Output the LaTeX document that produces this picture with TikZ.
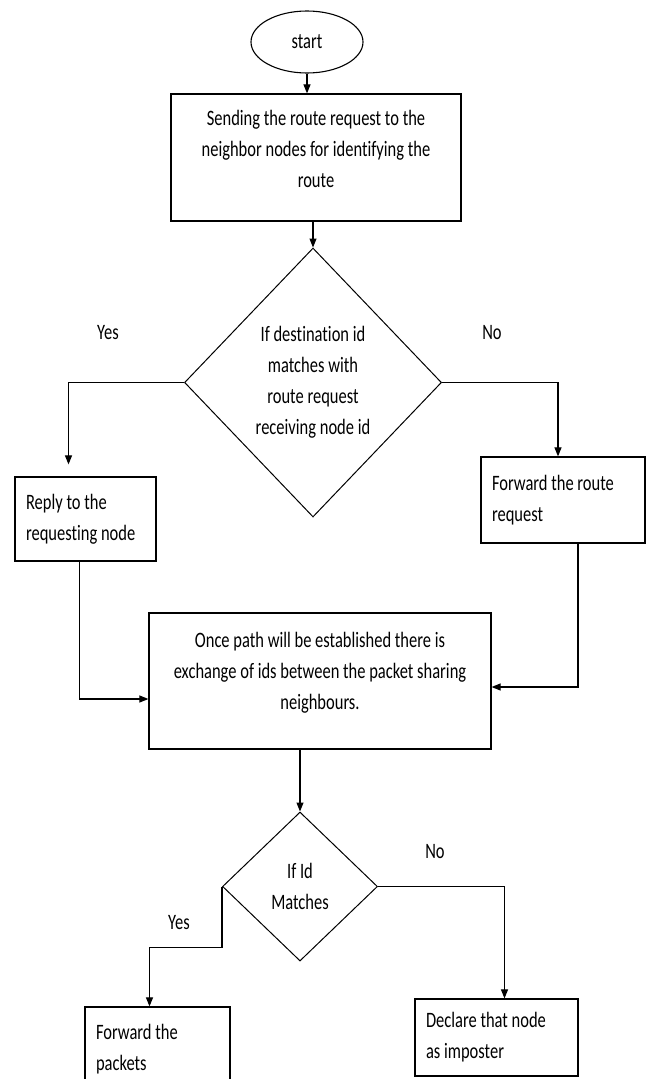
\documentclass[tikz,border=0pt]{standalone}
\usepackage{fontspec}
\setmainfont{Carlito}[FakeStretch=0.75, Ligatures=NoCommon]
\usepackage{tikz}
\usetikzlibrary{shapes.geometric, arrows.meta, positioning, calc}

\begin{document}
\begin{tikzpicture}[
        x=1pt, y=-1pt,
        box/.style={rectangle, draw, line width=1.2pt, inner sep=0pt, align=center, font=\fontsize{22}{31}\selectfont},
        leftbox/.style={box, align=flush left, inner xsep=11pt},
        decision/.style={diamond, draw, line width=1pt, inner sep=0pt, align=center, font=\fontsize{22}{31}\selectfont},
        label/.style={font=\fontsize{22}{31}\selectfont},
        arrow/.style={-{Triangle[length=9pt,width=7pt]}, line width=1.1pt}
    ]
        \useasboundingbox (0,0) rectangle (648,1079);

        \node[ellipse, draw, line width=1.1pt, minimum width=112pt, minimum height=62pt, inner sep=0pt, font=\fontsize{22}{31}\selectfont] (start) at (307,42) {start};
        \node[box, minimum width=290pt, minimum height=127pt, text depth=18pt] (route) at (316,157.5) {Sending the route request to the\\ neighbor nodes for identifying the\\ route};
        \node[decision, minimum width=257pt, minimum height=269pt] (destid) at (313,382.5) {If destination id\\ matches with\\ route request\\ receiving node id};

        \node[leftbox, minimum width=141pt, minimum height=84pt, text width=119pt] (reply) at (85.5,519) {Reply to the\\ requesting node};
        \node[leftbox, minimum width=164pt, minimum height=86pt, text width=142pt] (fwdroute) at (563,500) {Forward the route\\ request};

        \node[box, minimum width=342pt, minimum height=136pt, text depth=20pt] (exchange) at (320,681) {Once path will be established there is\\ exchange of ids between the packet sharing\\ neighbours.};
        \node[decision, minimum width=155pt, minimum height=149pt] (idmatch) at (300,886.5) {If Id\\ Matches};

        \node[leftbox, minimum width=145pt, minimum height=84pt, text width=123pt] (packets) at (157.5,1049) {Forward the\\ packets};
        \node[leftbox, minimum width=163pt, minimum height=77pt, text width=141pt] (imposter) at (496.5,1037.5) {Declare that node\\ as imposter};

        % yes / no labels
        \node[label] (yes1) at (108,333) {Yes};
        \node[label] (no1) at (492,333) {No};
        \node[label] (yes2) at (179,923) {Yes};
        \node[label] (no2) at (435,852) {No};

        \draw[arrow] (start.south) -- (start.south |- route.north);
        \draw[arrow] (route.south -| destid.north) -- (destid.north);
        \draw[arrow, shorten >=12pt] (destid.west) -| ([xshift=-17pt]reply.north);
        \draw[arrow] (destid.east) -| ([xshift=-5pt]fwdroute.north);
        \draw[arrow] ([xshift=-6pt]reply.south) |- ([yshift=-18pt]exchange.west);
        \draw[arrow] ([xshift=15pt]fwdroute.south) |- ([yshift=-6pt]exchange.east);
        \draw[arrow] (exchange.south -| idmatch.north) -- (idmatch.north);
        \draw[arrow] (idmatch.west) -- ++(0,61) -| ([xshift=-8pt]packets.north);
        \draw[arrow] (idmatch.east) -| ([xshift=8pt]imposter.north);
    \end{tikzpicture}
\end{document}
